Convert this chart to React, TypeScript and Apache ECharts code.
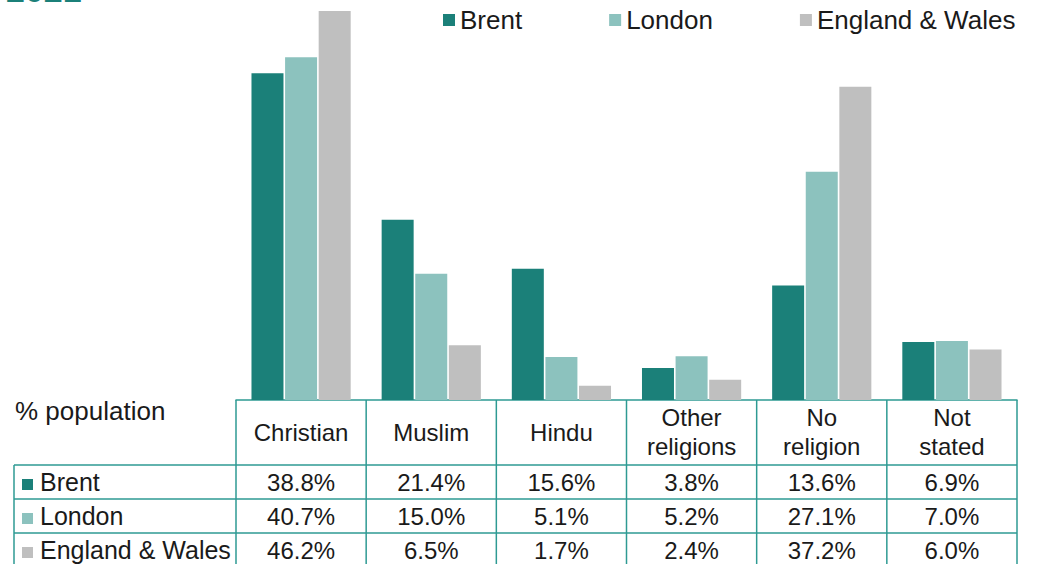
import React, { useEffect, useRef } from "react";
import * as echarts from "echarts";

const categories = ["Christian", "Muslim", "Hindu", "Other\nreligions", "No\nreligion", "Not\nstated"];
const seriesNames = ["Brent", "London", "England & Wales"];
const brent = [38.8, 21.4, 15.6, 3.8, 13.6, 6.9];
const london = [40.7, 15.0, 5.1, 5.2, 27.1, 7.0];
const englandWales = [46.2, 6.5, 1.7, 2.4, 37.2, 6.0];
const seriesColors = ["#1B8079", "#8CC2BE", "#BFBFBF"];
const titleText = "2021";
const tableLabel = "% population";

const W = 1038;
const H = 564;
const GRID_LEFT = 236;
const GRID_RIGHT_X = 1017;
const GRID_TOP = 11;
const BASE_Y = 400;
const FONT = "'Liberation Sans', Arial, sans-serif";
const LINE = "#2E9A93";
const TEXT = "#1a1a1a";

export default function App() {
  const ref = useRef<HTMLDivElement>(null);
  useEffect(() => {
    document.body.style.margin = "0";
    const chart = echarts.init(ref.current!, null, { renderer: "svg" });
    const allSeries = [brent, london, englandWales];
    const colW = (GRID_RIGHT_X - GRID_LEFT) / categories.length;
    const rowsY = [465, 499, 533, 567];
    const g: any[] = [];
    // title (cropped at the top edge, as in the reference)
    g.push({
      type: "text",
      x: 6,
      y: -10,
      style: { text: titleText, fill: "#1B8079", font: `bold 34px ${FONT}`, textAlign: "left", textVerticalAlign: "middle" },
    });
    g.push({
      type: "text",
      x: 15,
      y: 411,
      style: { text: tableLabel, fill: TEXT, font: `26px ${FONT}`, textAlign: "left", textVerticalAlign: "middle" },
    });
    // vertical lines
    for (let k = 0; k <= categories.length; k++) {
      const x = GRID_LEFT + k * colW;
      g.push({ type: "line", shape: { x1: x, y1: BASE_Y, x2: x, y2: H + 5 }, style: { stroke: LINE, lineWidth: 1.5 } });
    }
    g.push({ type: "line", shape: { x1: 14, y1: rowsY[0], x2: 14, y2: H + 5 }, style: { stroke: LINE, lineWidth: 1.5 } });
    for (let r = 0; r < 3; r++) {
      g.push({ type: "line", shape: { x1: 14, y1: rowsY[r], x2: GRID_RIGHT_X, y2: rowsY[r] }, style: { stroke: LINE, lineWidth: 1.5 } });
    }
    // header
    categories.forEach((c, i) => {
      g.push({
        type: "text",
        x: GRID_LEFT + (i + 0.5) * colW,
        y: 432,
        style: { text: c, fill: TEXT, font: `24px ${FONT}`, lineHeight: 29, textAlign: "center", textVerticalAlign: "middle" },
      });
    });
    // rows
    seriesNames.forEach((name, r) => {
      const cy = (rowsY[r] + rowsY[r + 1]) / 2;
      g.push({ type: "rect", shape: { x: 22, y: cy - 3, width: 11, height: 11 }, style: { fill: seriesColors[r] } });
      g.push({
        type: "text",
        x: 40,
        y: cy,
        style: { text: name, fill: TEXT, font: `25px ${FONT}`, textAlign: "left", textVerticalAlign: "middle" },
      });
      allSeries[r].forEach((v, i) => {
        g.push({
          type: "text",
          x: GRID_LEFT + (i + 0.5) * colW,
          y: cy,
          style: { text: v.toFixed(1) + "%", fill: TEXT, font: `24px ${FONT}`, textAlign: "center", textVerticalAlign: "middle" },
        });
      });
    });

    chart.setOption({
      animation: false,
      backgroundColor: "#ffffff",
      legend: {
        data: seriesNames,
        left: 443,
        top: 7,
        padding: 0,
        itemGap: 87,
        itemWidth: 12,
        itemHeight: 12,
        icon: "rect",
        textStyle: { fontSize: 26, fontFamily: FONT, color: TEXT },
      },
      grid: { left: GRID_LEFT, right: W - GRID_RIGHT_X, top: GRID_TOP, bottom: H - BASE_Y, containLabel: false },
      xAxis: {
        type: "category",
        data: categories,
        axisLine: { show: true, lineStyle: { color: LINE, width: 1.5 } },
        axisTick: { show: false },
        axisLabel: { show: false },
      },
      yAxis: {
        type: "value",
        min: 0,
        max: 46.2,
        show: false,
        splitLine: { show: false },
      },
      series: seriesNames.map((name, i) => ({
        name,
        type: "bar",
        data: allSeries[i],
        barWidth: 32,
        barGap: "5%",
        itemStyle: { color: seriesColors[i] },
      })),
      graphic: g,
    });
    return () => chart.dispose();
  }, []);
  return <div ref={ref} style={{ width: W, height: H, display: "block" }} />;
}
